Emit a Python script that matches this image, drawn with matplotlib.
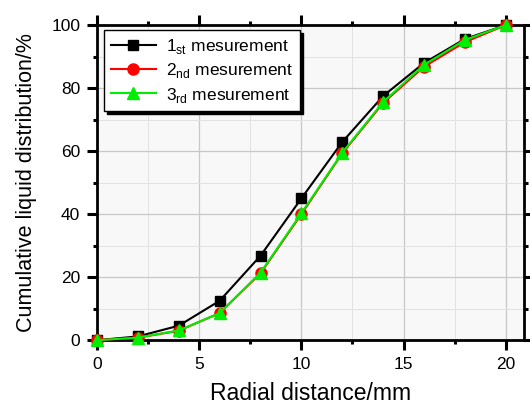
import numpy as np
import matplotlib
matplotlib.use('Agg')
import matplotlib.pyplot as plt
from matplotlib.ticker import MultipleLocator

plt.rcParams['font.family'] = ['Liberation Sans', 'DejaVu Sans']

# radial positions (mm) and cumulative distribution (%)
r = [0, 2, 4, 6, 8, 10, 12, 14, 16, 18, 20]
m1 = [0, 1.2, 4.6, 12.5, 26.8, 45, 62.9, 77.5, 88, 95.6, 100]
m2 = [0, 0.8, 3.0, 8.6, 21.2, 40.0, 59.3, 75.3, 86.8, 94.6, 100]
m3 = [0, 0.8, 3.1, 8.6, 21.4, 40.3, 59.5, 75.6, 87.4, 95.3, 100]
labels = ['1$_{\\mathregular{st}}$ mesurement',
          '2$_{\\mathregular{nd}}$ mesurement',
          '3$_{\\mathregular{rd}}$ mesurement']

fig = plt.figure(figsize=(5.3, 4.05), dpi=100)
ax = fig.add_axes([0.183, 0.16, 0.806, 0.778])
ax.set_facecolor('#f8f8f8')

ax.plot(r, m1, 'k-', marker='s', ms=7.5, lw=1.5, label=labels[0], clip_on=False, zorder=3)
ax.plot(r, m2, color='red', marker='o', ms=8, lw=1.5, label=labels[1], clip_on=False, zorder=4)
ax.plot(r, m3, color='#00ee00', marker='^', ms=9, lw=1.5, label=labels[2], clip_on=False, zorder=5)

ax.set_xlim(0, 20.9)
ax.set_ylim(0, 100)
ax.xaxis.set_major_locator(MultipleLocator(5))
ax.xaxis.set_minor_locator(MultipleLocator(2.5))
ax.yaxis.set_major_locator(MultipleLocator(20))
ax.yaxis.set_minor_locator(MultipleLocator(10))
ax.grid(which='major', color='#c8c8c8', lw=0.9)
ax.grid(which='minor', color='#e2e2e2', lw=0.7)
ax.set_axisbelow(True)

for s in ax.spines.values():
    s.set_linewidth(2)
ax.tick_params(which='both', direction='out', top=True, right=True, width=2.2, labelsize=12.5)
ax.tick_params(which='major', length=7, pad=5)
ax.tick_params(which='minor', length=3)

ax.set_xlabel('Radial distance/mm', fontsize=16.5, labelpad=7)
ax.set_ylabel('Cumulative liquid distribution/%', fontsize=15.5, labelpad=10)

leg = ax.legend(loc='upper left', bbox_to_anchor=(0.016, 0.984), borderaxespad=0,
                fontsize=12.5, fancybox=False,
                shadow={'color': 'black', 'alpha': 1},
                framealpha=1, edgecolor='black', handlelength=2.6, borderpad=0.4,
                labelspacing=0.3, handletextpad=0.6)
leg.get_frame().set_linewidth(1)

fig.savefig('out.png', dpi=100)
